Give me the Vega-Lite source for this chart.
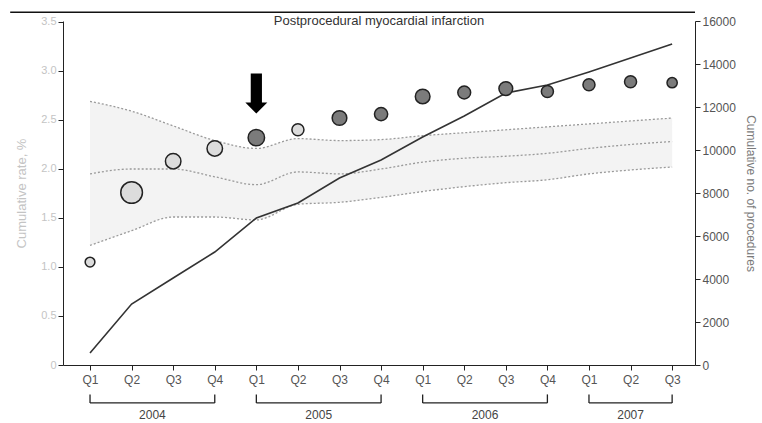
{
  "$schema": "https://vega.github.io/schema/vega-lite/v6.json",
  "width": 632,
  "height": 344,
  "autosize": {"type": "none"},
  "padding": {"left": 63, "top": 21, "right": 67, "bottom": 58},
  "config": {
    "font": "Liberation Sans",
    "view": {"stroke": null},
    "axis": {"grid": false}
  },
  "datasets": {
    "series": [
      {"q": 0, "upper": 2.69, "mid": 1.95, "lower": 1.22, "rate": 1.05, "n": 19, "signal": "no", "procedures": 558},
      {"q": 1, "upper": 2.59, "mid": 2.0, "lower": 1.37, "rate": 1.76, "n": 94, "signal": "no", "procedures": 2837},
      {"q": 2, "upper": 2.44, "mid": 2.0, "lower": 1.51, "rate": 2.08, "n": 48, "signal": "no", "procedures": 4046},
      {"q": 3, "upper": 2.29, "mid": 1.92, "lower": 1.51, "rate": 2.21, "n": 48, "signal": "no", "procedures": 5255},
      {"q": 4, "upper": 2.21, "mid": 1.84, "lower": 1.48, "rate": 2.32, "n": 54, "signal": "yes", "procedures": 6836},
      {"q": 5, "upper": 2.31, "mid": 1.97, "lower": 1.64, "rate": 2.4, "n": 29, "signal": "no", "procedures": 7533},
      {"q": 6, "upper": 2.29, "mid": 1.95, "lower": 1.66, "rate": 2.52, "n": 43, "signal": "yes", "procedures": 8696},
      {"q": 7, "upper": 2.3, "mid": 2.0, "lower": 1.71, "rate": 2.56, "n": 35, "signal": "yes", "procedures": 9533},
      {"q": 8, "upper": 2.34, "mid": 2.07, "lower": 1.77, "rate": 2.74, "n": 43, "signal": "yes", "procedures": 10602},
      {"q": 9, "upper": 2.37, "mid": 2.11, "lower": 1.82, "rate": 2.78, "n": 33, "signal": "yes", "procedures": 11579},
      {"q": 10, "upper": 2.4, "mid": 2.13, "lower": 1.86, "rate": 2.82, "n": 38, "signal": "yes", "procedures": 12648},
      {"q": 11, "upper": 2.43, "mid": 2.16, "lower": 1.89, "rate": 2.79, "n": 29, "signal": "yes", "procedures": 13020},
      {"q": 12, "upper": 2.46, "mid": 2.21, "lower": 1.95, "rate": 2.86, "n": 29, "signal": "yes", "procedures": 13625},
      {"q": 13, "upper": 2.49, "mid": 2.25, "lower": 1.99, "rate": 2.89, "n": 29, "signal": "yes", "procedures": 14276},
      {"q": 14, "upper": 2.52, "mid": 2.28, "lower": 2.02, "rate": 2.88, "n": 21, "signal": "yes", "procedures": 14927}
    ],
    "years": [
      {"year": "2004", "q": 0, "q2": 3, "mid": 1.5},
      {"year": "2005", "q": 4, "q2": 7, "mid": 5.5},
      {"year": "2006", "q": 8, "q2": 11, "mid": 9.5},
      {"year": "2007", "q": 12, "q2": 14, "mid": 13}
    ],
    "labels": [
      {"title": "Postprocedural myocardial infarction"}
    ]
  },
  "layer": [
    {
      "layer": [
        {
          "data": {"name": "series"},
          "mark": {"type": "area", "color": "#e4e4e4", "opacity": 0.45, "interpolate": "monotone"},
          "encoding": {
            "x": {
              "field": "q", "type": "quantitative",
              "scale": {"domain": [-0.65, 14.55], "nice": false, "zero": false},
              "axis": {
                "values": [0, 1, 2, 3, 4, 5, 6, 7, 8, 9, 10, 11, 12, 13, 14],
                "labelExpr": "['Q1','Q2','Q3','Q4'][datum.value % 4]",
                "title": null,
                "labelFontSize": 12,
                "labelColor": "#555555",
                "labelPadding": 4,
                "tickSize": 5,
                "tickColor": "#222222",
                "domainColor": "#222222",
                "labelFlush": false
              }
            },
            "y": {
              "field": "lower", "type": "quantitative",
              "scale": {"domain": [0, 3.51], "nice": false, "zero": true},
              "axis": {
                "orient": "left",
                "values": [0, 0.5, 1, 1.5, 2, 2.5, 3, 3.5],
                "labelExpr": "datum.value == 0 ? '0' : format(datum.value, '.1f')",
                "title": "Cumulative rate, %",
                "titleColor": "#c4c4c4",
                "titleFontSize": 13,
                "titleFontWeight": "normal",
                "titlePadding": 12,
                "labelColor": "#c4c4c4",
                "labelFontSize": 11,
                "tickSize": 5,
                "tickColor": "#222222",
                "domainColor": "#222222"
              }
            },
            "y2": {"field": "upper"}
          }
        },
        {
          "data": {"name": "series"},
          "mark": {"type": "line", "color": "#9a9a9a", "strokeDash": [2, 2], "strokeWidth": 1.3, "interpolate": "monotone"},
          "encoding": {
            "x": {"field": "q", "type": "quantitative"},
            "y": {"field": "upper", "type": "quantitative"}
          }
        },
        {
          "data": {"name": "series"},
          "mark": {"type": "line", "color": "#9a9a9a", "strokeDash": [2, 2], "strokeWidth": 1.3, "interpolate": "monotone"},
          "encoding": {
            "x": {"field": "q", "type": "quantitative"},
            "y": {"field": "mid", "type": "quantitative"}
          }
        },
        {
          "data": {"name": "series"},
          "mark": {"type": "line", "color": "#9a9a9a", "strokeDash": [2, 2], "strokeWidth": 1.3, "interpolate": "monotone"},
          "encoding": {
            "x": {"field": "q", "type": "quantitative"},
            "y": {"field": "lower", "type": "quantitative"}
          }
        },
        {
          "data": {"name": "years"},
          "mark": {"type": "rule", "color": "#222222", "strokeWidth": 1.3},
          "encoding": {
            "x": {"field": "q", "type": "quantitative"},
            "x2": {"field": "q2"},
            "y": {"datum": -0.387, "type": "quantitative"}
          }
        },
        {
          "data": {"name": "years"},
          "mark": {"type": "rule", "color": "#222222", "strokeWidth": 1.3},
          "encoding": {
            "x": {"field": "q", "type": "quantitative"},
            "y": {"datum": -0.387, "type": "quantitative"},
            "y2": {"datum": -0.3}
          }
        },
        {
          "data": {"name": "years"},
          "mark": {"type": "rule", "color": "#222222", "strokeWidth": 1.3},
          "encoding": {
            "x": {"field": "q2", "type": "quantitative"},
            "y": {"datum": -0.387, "type": "quantitative"},
            "y2": {"datum": -0.3}
          }
        },
        {
          "data": {"name": "years"},
          "mark": {"type": "text", "fontSize": 12, "color": "#444444", "baseline": "middle", "align": "center"},
          "encoding": {
            "x": {"field": "mid", "type": "quantitative"},
            "y": {"datum": -0.51, "type": "quantitative"},
            "text": {"field": "year"}
          }
        },
        {
          "data": {"name": "labels"},
          "mark": {"type": "text", "fontSize": 13, "color": "#333333", "baseline": "middle", "align": "center"},
          "encoding": {
            "x": {"datum": 6.95, "type": "quantitative"},
            "y": {"datum": 3.51, "type": "quantitative"},
            "text": {"field": "title"}
          }
        },
        {
          "data": {"name": "labels"},
          "mark": {"type": "rule", "color": "#111111", "strokeWidth": 1.6},
          "encoding": {
            "x": {"datum": -1.92, "type": "quantitative"},
            "x2": {"datum": 14.55},
            "y": {"datum": 3.6, "type": "quantitative"}
          }
        }
      ]
    },
    {
      "data": {"name": "series"},
      "mark": {"type": "line", "color": "#333333", "strokeWidth": 1.6},
      "encoding": {
        "x": {"field": "q", "type": "quantitative"},
        "y": {
          "field": "procedures", "type": "quantitative",
          "scale": {"domain": [0, 16000], "nice": false, "zero": true},
          "axis": {
            "orient": "right",
            "values": [0, 2000, 4000, 6000, 8000, 10000, 12000, 14000, 16000],
            "format": "d",
            "title": "Cumulative no. of procedures",
            "titleColor": "#7a7a7a",
            "titleFontSize": 12,
            "titleFontWeight": "normal",
            "titlePadding": 8,
            "labelColor": "#555555",
            "labelFontSize": 12,
            "labelPadding": 2,
            "tickSize": 5,
            "tickColor": "#222222",
            "domainColor": "#222222"
          }
        }
      }
    },
    {
      "layer": [
        {
          "data": {"name": "series"},
          "mark": {"type": "point", "shape": "circle", "filled": true, "stroke": "#222222", "strokeWidth": 1.5, "opacity": 1},
          "encoding": {
            "x": {"field": "q", "type": "quantitative"},
            "y": {"field": "rate", "type": "quantitative", "scale": {"domain": [0, 3.51], "nice": false, "zero": true}, "axis": null},
            "fill": {"field": "signal", "type": "nominal", "scale": {"domain": ["no", "yes"], "range": ["#dcdcdc", "#7b7b7b"]}, "legend": null},
            "size": {"field": "n", "type": "quantitative", "scale": {"type": "linear", "domain": [0, 100], "range": [0, 500], "zero": true}, "legend": null}
          }
        },
        {
          "data": {"name": "labels"},
          "mark": {
            "type": "point",
            "shape": "M-0.28,-1L0.28,-1L0.28,0.45L0.55,0.45L0,1L-0.55,0.45L-0.28,0.45Z",
            "filled": true,
            "color": "#000000",
            "size": 1600,
            "opacity": 1,
            "strokeWidth": 0
          },
          "encoding": {
            "x": {"datum": 4, "type": "quantitative"},
            "y": {"datum": 2.77, "type": "quantitative", "axis": null}
          }
        }
      ]
    }
  ],
  "resolve": {"scale": {"y": "independent"}}
}
